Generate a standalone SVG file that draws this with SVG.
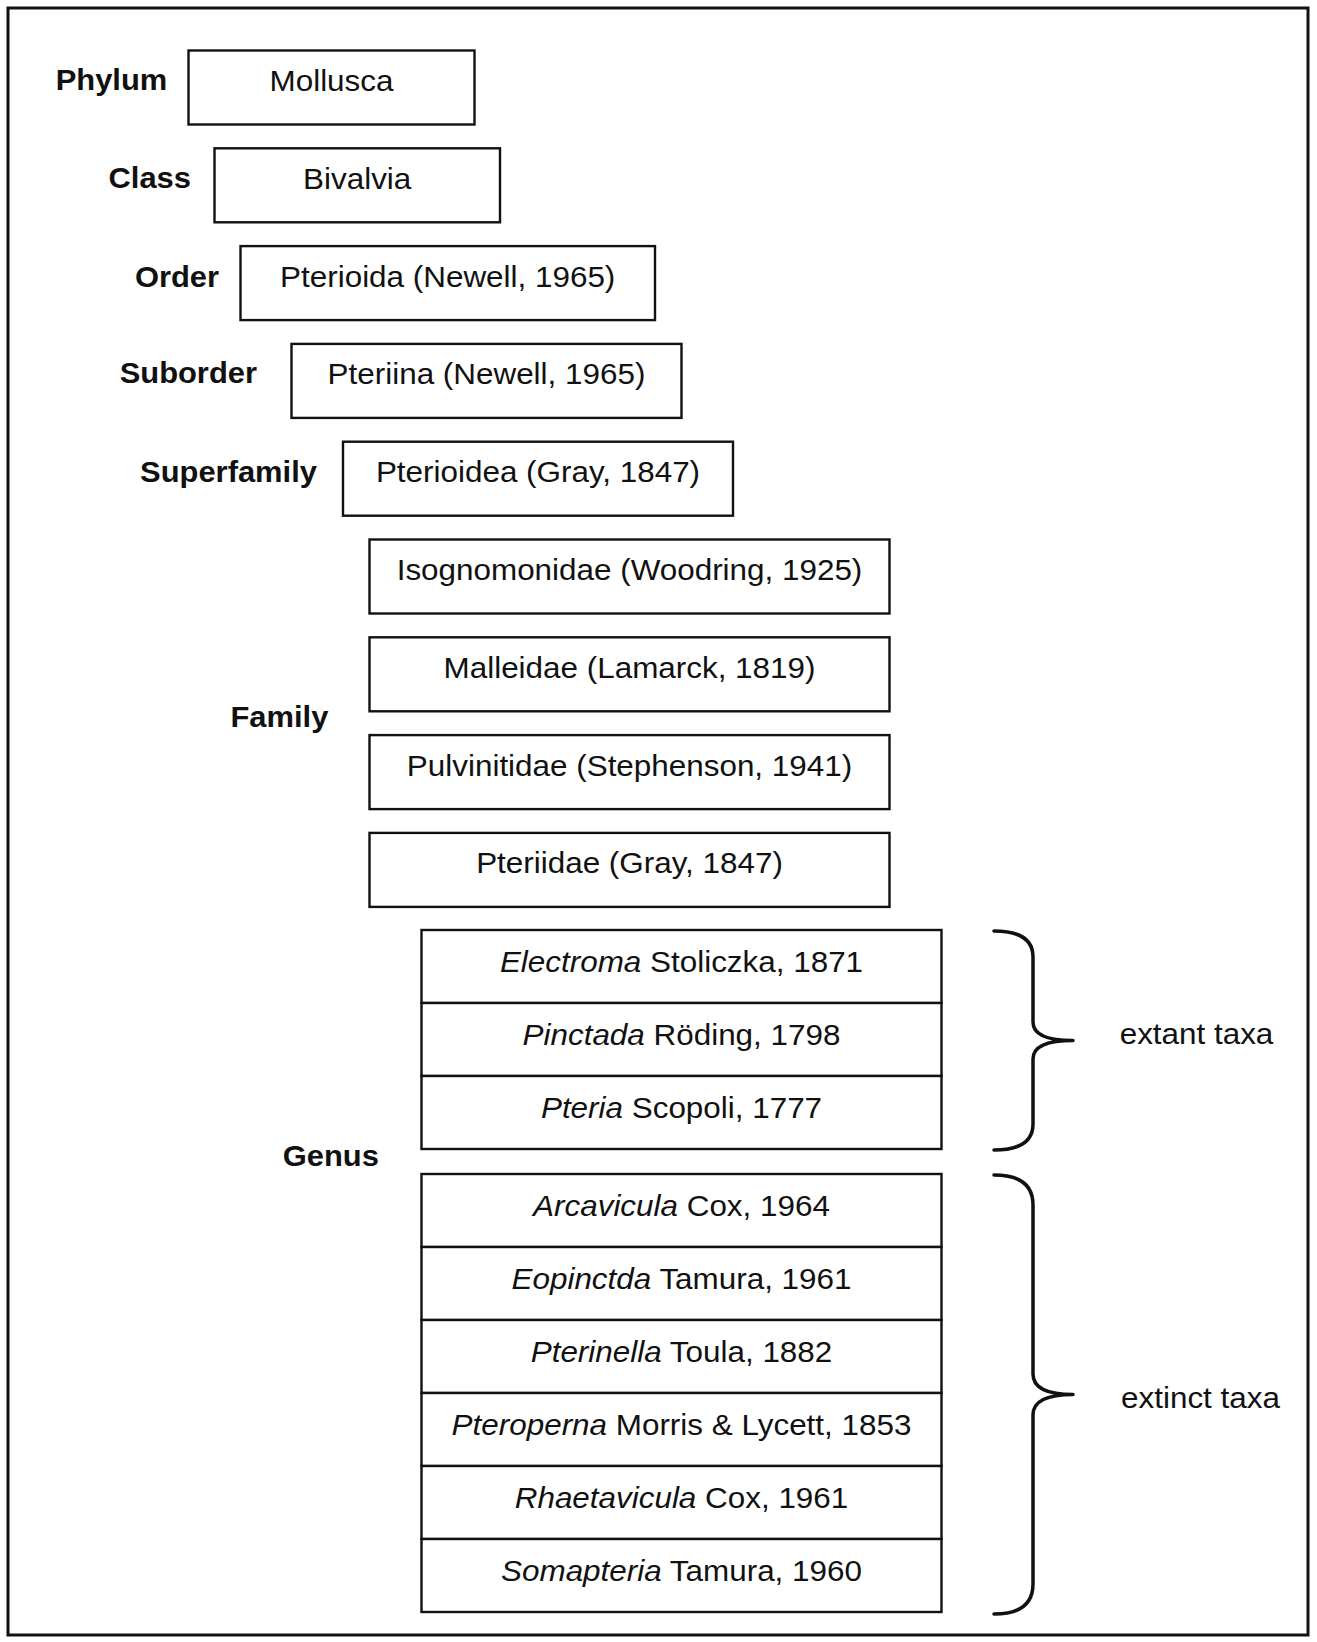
<svg xmlns="http://www.w3.org/2000/svg" width="1317" height="1642" viewBox="0 0 1317 1642">
<style>
  .frame{fill:none;stroke:#111;stroke-width:3}
  .box{fill:#fff;stroke:#111;stroke-width:2.4}
  .brace{fill:none;stroke:#111;stroke-width:3.5;stroke-linecap:round;stroke-linejoin:round}
  .t{font-family:"Liberation Sans",Arial,sans-serif;font-size:29.5px;fill:#111;text-anchor:middle}
  .lb{font-family:"Liberation Sans",Arial,sans-serif;font-size:30px;font-weight:bold;fill:#111;text-anchor:middle}
  .i{font-style:italic}
</style>
<rect width="1317" height="1642" fill="#fff"/>
<rect class="frame" x="8" y="8" width="1300" height="1627"/>

<g id="labels">
  <text class="lb" transform="translate(111.5,90) scale(1.03,1)">Phylum</text>
  <text class="lb" transform="translate(149.7,188.3) scale(1.03,1)">Class</text>
  <text class="lb" transform="translate(177,286.7) scale(1.03,1)">Order</text>
  <text class="lb" transform="translate(188.3,383.3) scale(1.03,1)">Suborder</text>
  <text class="lb" transform="translate(228.5,481.7) scale(1.03,1)">Superfamily</text>
  <text class="lb" transform="translate(279.4,726.7) scale(1.03,1)">Family</text>
  <text class="lb" transform="translate(330.8,1165.5) scale(1.03,1)">Genus</text>
</g>

<g id="phylum">
  <rect class="box" x="188.5" y="50.5" width="286" height="74"/>
  <text class="t" transform="translate(331.5,91) scale(1.065,1)">Mollusca</text>
</g>
<g id="class">
  <rect class="box" x="214.5" y="148.3" width="285.5" height="74"/>
  <text class="t" transform="translate(357.2,188.8) scale(1.065,1)">Bivalvia</text>
</g>
<g id="order">
  <rect class="box" x="240.5" y="246.1" width="414.5" height="74"/>
  <text class="t" transform="translate(447.7,286.6) scale(1.065,1)">Pterioida (Newell, 1965)</text>
</g>
<g id="suborder">
  <rect class="box" x="291.5" y="343.9" width="390" height="74"/>
  <text class="t" transform="translate(486.5,384.4) scale(1.065,1)">Pteriina (Newell, 1965)</text>
</g>
<g id="superfamily">
  <rect class="box" x="343" y="441.7" width="390" height="74"/>
  <text class="t" transform="translate(538,482.2) scale(1.065,1)">Pterioidea (Gray, 1847)</text>
</g>
<g id="family-isognomonidae">
  <rect class="box" x="369.5" y="539.5" width="520" height="74"/>
  <text class="t" transform="translate(629.5,580) scale(1.065,1)">Isognomonidae (Woodring, 1925)</text>
</g>
<g id="family-malleidae">
  <rect class="box" x="369.5" y="637.3" width="520" height="74"/>
  <text class="t" transform="translate(629.5,677.8) scale(1.065,1)">Malleidae (Lamarck, 1819)</text>
</g>
<g id="family-pulvinitidae">
  <rect class="box" x="369.5" y="735.1" width="520" height="74"/>
  <text class="t" transform="translate(629.5,775.6) scale(1.065,1)">Pulvinitidae (Stephenson, 1941)</text>
</g>
<g id="family-pteriidae">
  <rect class="box" x="369.5" y="832.9" width="520" height="74"/>
  <text class="t" transform="translate(629.5,873.4) scale(1.065,1)">Pteriidae (Gray, 1847)</text>
</g>

<g id="genus-electroma">
  <rect class="box" x="421.5" y="930" width="520" height="73"/>
  <text class="t" transform="translate(681.5,971.5) scale(1.065,1)"><tspan class="i">Electroma</tspan> Stoliczka, 1871</text>
</g>
<g id="genus-pinctada">
  <rect class="box" x="421.5" y="1003" width="520" height="73"/>
  <text class="t" transform="translate(681.5,1044.5) scale(1.065,1)"><tspan class="i">Pinctada</tspan> Röding, 1798</text>
</g>
<g id="genus-pteria">
  <rect class="box" x="421.5" y="1076" width="520" height="73"/>
  <text class="t" transform="translate(681.5,1117.5) scale(1.065,1)"><tspan class="i">Pteria</tspan> Scopoli, 1777</text>
</g>

<g id="genus-arcavicula">
  <rect class="box" x="421.5" y="1174" width="520" height="73"/>
  <text class="t" transform="translate(681.5,1215.5) scale(1.065,1)"><tspan class="i">Arcavicula</tspan> Cox, 1964</text>
</g>
<g id="genus-eopinctda">
  <rect class="box" x="421.5" y="1247" width="520" height="73"/>
  <text class="t" transform="translate(681.5,1288.5) scale(1.065,1)"><tspan class="i">Eopinctda</tspan> Tamura, 1961</text>
</g>
<g id="genus-pterinella">
  <rect class="box" x="421.5" y="1320" width="520" height="73"/>
  <text class="t" transform="translate(681.5,1361.5) scale(1.065,1)"><tspan class="i">Pterinella</tspan> Toula, 1882</text>
</g>
<g id="genus-pteroperna">
  <rect class="box" x="421.5" y="1393" width="520" height="73"/>
  <text class="t" transform="translate(681.5,1434.5) scale(1.065,1)"><tspan class="i">Pteroperna</tspan> Morris &amp; Lycett, 1853</text>
</g>
<g id="genus-rhaetavicula">
  <rect class="box" x="421.5" y="1466" width="520" height="73"/>
  <text class="t" transform="translate(681.5,1507.5) scale(1.065,1)"><tspan class="i">Rhaetavicula</tspan> Cox, 1961</text>
</g>
<g id="genus-somapteria">
  <rect class="box" x="421.5" y="1539" width="520" height="73"/>
  <text class="t" transform="translate(681.5,1580.5) scale(1.065,1)"><tspan class="i">Somapteria</tspan> Tamura, 1960</text>
</g>

<g id="connectors">
  <path class="brace" d="M 994 931 C 1020 931, 1033 940, 1033 957 L 1033 1022 C 1033 1035, 1048 1040.5, 1073 1040.5 C 1048 1040.5, 1033 1046, 1033 1059 L 1033 1124 C 1033 1141, 1020 1150, 994 1150"/>
  <path class="brace" d="M 994 1175 C 1020 1175, 1033 1185, 1033 1205 L 1033 1374 C 1033 1388, 1048 1394.5, 1073 1394.5 C 1048 1394.5, 1033 1401, 1033 1415 L 1033 1584 C 1033 1604, 1020 1614, 994 1614"/>
</g>

<g id="brace-labels">
  <text class="t" transform="translate(1196.5,1044) scale(1.065,1)">extant taxa</text>
  <text class="t" transform="translate(1200.5,1408) scale(1.065,1)">extinct taxa</text>
</g>
</svg>
